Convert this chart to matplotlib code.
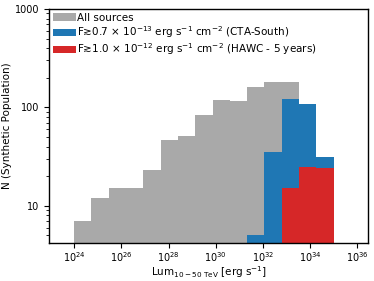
# Synthetic population: luminosity distribution of all sources vs detectable ones
import matplotlib.pyplot as plt
from matplotlib.ticker import ScalarFormatter, NullFormatter
import numpy as np

# bin edges in log10(L) [erg/s]
log_edges = np.linspace(24, 35, 16)

# counts per bin
all_sources = [7, 12, 15, 15, 23, 47, 51, 84, 120, 117, 160, 180, 183, 108, 31]
cta_south = [0, 0, 0, 0, 0, 0, 0, 0, 0, 0, 5, 35, 122, 108, 31]
hawc_5yr = [0, 0, 0, 0, 0, 0, 0, 0, 0, 0, 0, 0, 15, 25, 24]

labels = ["All sources",
          "F\u22730.7 \u00d7 10$^{-13}$ erg s$^{-1}$ cm$^{-2}$ (CTA-South)",
          "F\u22731.0 \u00d7 10$^{-12}$ erg s$^{-1}$ cm$^{-2}$ (HAWC - 5 years)"]
colors = ["darkgray", "tab:blue", "tab:red"]

edges = 10 ** log_edges
widths = edges[1:] - edges[:-1]

fig = plt.figure(figsize=(3.74, 2.81), dpi=100)
ax = fig.add_axes([0.132, 0.136, 0.853, 0.832])

for counts, lab, col in zip([all_sources, cta_south, hawc_5yr], labels, colors):
    ax.bar(edges[:-1], counts, width=widths, align='edge', color=col,
           label=lab, linewidth=0)

ax.set_xscale('log')
ax.set_yscale('log')
ax.set_xlim(10 ** 22.95, 10 ** 36.47)
ax.set_ylim(4.2, 1000)
ax.set_xticks([10.0 ** k for k in range(24, 37, 2)])
ax.xaxis.set_minor_locator(plt.NullLocator())
ax.yaxis.set_major_formatter(ScalarFormatter())
ax.yaxis.set_minor_formatter(NullFormatter())

for s in ax.spines.values():
    s.set_linewidth(1.0)
ax.tick_params(labelsize=7, width=0.8)
ax.tick_params(axis='x', pad=1.5)

ax.set_xlabel(r"Lum$_{10-50\ \rm TeV}$ [erg s$^{-1}$]", fontsize=7.5, labelpad=0.5)
ax.set_ylabel("N (Synthetic Population)", fontsize=7.5, labelpad=2)

ax.legend(loc="upper left", frameon=False, fontsize=7.5, handlelength=2.2,
          handletextpad=0.1, labelspacing=0.15, borderaxespad=0.0, borderpad=0.35)

plt.savefig('out.png', dpi=100)
